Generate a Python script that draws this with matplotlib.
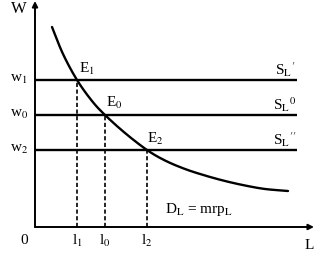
import matplotlib
matplotlib.use("Agg")
import matplotlib.pyplot as plt
import numpy as np

plt.rcParams['font.family'] = ['Liberation Serif', 'DejaVu Serif']
plt.rcParams['mathtext.fontset'] = 'stix'

# wage levels (supply curves) and corresponding labour quantities
wage_labels = ['w$_1$', 'w$_0$', 'w$_2$']
wages = [14.7, 11.2, 7.7]
supply_labels = ["S$_{\\rm L}$$^{\\prime}$", "S$_{\\rm L}$$^{0}$", "S$_{\\rm L}$$^{\\prime\\prime}$"]
labour = [4.2, 7.0, 11.2]
labour_labels = ['l$_1$', 'l$_0$', 'l$_2$']
eq_labels = ['E$_1$', 'E$_0$', 'E$_2$']

# demand curve D_L = mrp_L
demand_L = [1.7, 2.8, 4.2, 5.7, 7.0, 9.0, 11.2, 13.0, 15.0, 17.0, 19.0, 21.0, 23.0, 25.3]
demand_W = [20.0, 17.3, 14.7, 12.6, 11.2, 9.4, 7.7, 6.65, 5.8, 5.15, 4.6, 4.15, 3.8, 3.6]

fig = plt.figure(figsize=(3.27, 2.55), dpi=100)
ax = fig.add_axes([0, 0, 1, 1])
ax.set_xlim(-3.5, 29.2)
ax.set_ylim(-2.7, 22.8)
ax.axis('off')

lw = 1.7
# axes with arrows
ax.annotate('', xy=(0, 22.6), xytext=(0, 0),
            arrowprops=dict(arrowstyle='-|>', lw=1.4, color='black', mutation_scale=8, shrinkA=0, shrinkB=0))
ax.annotate('', xy=(27.9, 0), xytext=(0, 0),
            arrowprops=dict(arrowstyle='-|>', lw=1.4, color='black', mutation_scale=8, shrinkA=0, shrinkB=0))

# supply lines
for w in wages:
    ax.plot([0, 26.2], [w, w], color='black', lw=lw, solid_capstyle='butt')

# demand curve (smooth through the read points)
def catmull(p, tt):
    p = np.asarray(p, float)
    pp = np.concatenate([[2 * p[0] - p[1]], p, [2 * p[-1] - p[-2]]])
    out = []
    for u in tt:
        i = min(int(u), len(p) - 2)
        s = u - i
        p0, p1, p2, p3 = pp[i], pp[i + 1], pp[i + 2], pp[i + 3]
        out.append(0.5 * ((2 * p1) + (-p0 + p2) * s + (2 * p0 - 5 * p1 + 4 * p2 - p3) * s ** 2
                          + (-p0 + 3 * p1 - 3 * p2 + p3) * s ** 3))
    return np.array(out)

tt = np.linspace(0, len(demand_L) - 1, 400)
ax.plot(catmull(demand_L, tt), catmull(demand_W, tt), color='black', lw=lw,
        solid_capstyle='round')

# dashed verticals
for l, w in zip(labour, wages):
    ax.plot([l, l], [0, w], color='black', lw=1.2, linestyle=(0, (2.5, 1.5)))

fs = 11
ax.text(-1.6, 21.9, 'W', fontsize=fs + 1, ha='center', va='center')
for lab, w in zip(wage_labels, wages):
    ax.text(-1.6, w + 0.2, lab, fontsize=fs, ha='center', va='center')
for lab, l in zip(labour_labels, labour):
    ax.text(l, -1.3, lab, fontsize=fs, ha='center', va='center')
ax.text(-1.1, -1.3, '0', fontsize=fs, ha='center', va='center')
ax.text(27.4, -1.8, 'L', fontsize=fs, ha='center', va='center')

eq_pos = [(5.2, 15.9), (7.9, 12.5), (12.0, 8.9)]
for lab, (x, y) in zip(eq_labels, eq_pos):
    ax.text(x, y, lab, fontsize=fs, ha='center', va='center')
for lab, w in zip(supply_labels, wages):
    ax.text(25.0, w + 1.1, lab, fontsize=fs, ha='center', va='center')

ax.text(16.4, 1.8, 'D$_{\\rm L}$ = mrp$_{\\rm L}$', fontsize=fs, ha='center', va='center')

fig.savefig('out.png', dpi=100)
